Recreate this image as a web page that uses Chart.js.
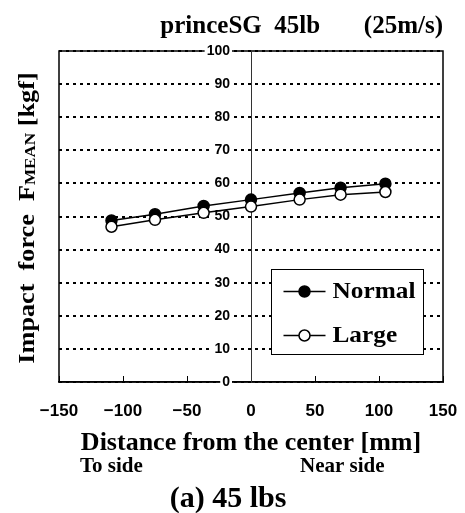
<!DOCTYPE html>
<html>
<head>
<meta charset="utf-8">
<script src="https://cdn.jsdelivr.net/npm/chart.js@4"></script>
<style>
  html, body { margin: 0; padding: 0; background: #fff; }
  #wrap { width: 465px; height: 513px; }
</style>
</head>
<body>
<div id="wrap"><canvas id="chart" width="465" height="513"></canvas></div>
<script>
// === ДАННЫЕ ===
const distances = [-109, -75, -37, 0, 38, 70, 105];
const normalForce = [48.8, 50.7, 53.2, 55.1, 57.1, 58.7, 59.9];
const largeForce = [46.9, 49.0, 51.1, 53.0, 55.1, 56.6, 57.4];
const xTicks = [-150, -100, -50, 0, 50, 100, 150];
const yTicks = [0, 10, 20, 30, 40, 50, 60, 70, 80, 90, 100];
const seriesNames = ['Normal', 'Large'];

const SERIF = '"Liberation Serif", "Times New Roman", serif';
const SANS = '"Liberation Sans", Arial, sans-serif';

// === РАМКА ОБЛАСТИ ГРАФИКА ===
const framePlugin = {
    id: 'frame',
    beforeDraw(chart) {
        const { ctx, chartArea: a } = chart;
        ctx.save();
        ctx.strokeStyle = '#000';
        ctx.lineWidth = 1.5;
        ctx.strokeRect(a.left, a.top, a.right - a.left, a.bottom - a.top);
        ctx.restore();
    }
};

// === ПОДПИСИ, ЛЕГЕНДА ===
const textPlugin = {
    id: 'extraText',
    afterDraw(chart) {
        const { ctx, chartArea: a } = chart;
        ctx.save();
        ctx.fillStyle = '#000';

        // ось Y: Impact force F_MEAN [kgf] (шрифт немного растянут по длине)
        const big = 'bold 23px ' + SERIF;
        const small = 'bold 15px ' + SERIF;
        const parts = [
            ['Impact\u00a0\u00a0force\u00a0\u00a0F', big, 0],
            ['MEAN', small, 1],
            ['\u00a0[kgf]', big, 0]
        ];
        const stretch = 1.14;
        let total = 0;
        parts.forEach(p => { ctx.font = p[1]; total += ctx.measureText(p[0]).width; });
        ctx.translate(34, 218);
        ctx.rotate(-Math.PI / 2);
        ctx.scale(stretch, 1);
        ctx.textBaseline = 'alphabetic';
        ctx.textAlign = 'left';
        let cx = -total / 2;
        parts.forEach(p => {
            ctx.font = p[1];
            ctx.fillText(p[0], cx, p[2]);
            cx += ctx.measureText(p[0]).width;
        });
        ctx.setTransform(1, 0, 0, 1, 0, 0);

        // To side / Near side
        ctx.font = 'bold 21px ' + SERIF;
        ctx.textBaseline = 'middle';
        ctx.textAlign = 'left';
        ctx.fillText('To side', 80, 467);
        ctx.fillText('Near side', 300, 467);

        // (a) 45 lbs
        ctx.font = 'bold 30px ' + SERIF;
        ctx.textAlign = 'center';
        ctx.fillText('(a) 45 lbs', 228, 499);

        // легенда
        const bx = a.left + 212.5, by = a.top + 218.5, bw = 152, bh = 85;
        ctx.fillStyle = '#fff';
        ctx.fillRect(bx, by, bw, bh);
        ctx.strokeStyle = '#000';
        ctx.lineWidth = 1;
        ctx.strokeRect(bx, by, bw, bh);
        const rows = [
            { name: seriesNames[0], fill: '#000', y: by + 22 },
            { name: seriesNames[1], fill: '#fff', y: by + 66 }
        ];
        rows.forEach(r => {
            ctx.strokeStyle = '#000';
            ctx.lineWidth = 1.5;
            ctx.beginPath();
            ctx.moveTo(bx + 12, r.y);
            ctx.lineTo(bx + 54, r.y);
            ctx.stroke();
            ctx.beginPath();
            ctx.arc(bx + 33, r.y, 5.5, 0, Math.PI * 2);
            ctx.fillStyle = r.fill;
            ctx.fill();
            ctx.stroke();
            ctx.fillStyle = '#000';
            ctx.font = 'bold 23px ' + SERIF;
            ctx.textAlign = 'left';
            ctx.textBaseline = 'middle';
            ctx.save();
            ctx.translate(bx + 61, r.y + 1);
            ctx.scale(1.1, 1);
            ctx.fillText(r.name, 0, 0);
            ctx.restore();
        });
        ctx.restore();
    }
};

// === ГРАФИК ===
function buildChart() {
    const ctx = document.getElementById('chart').getContext('2d');
    const toPoints = arr => distances.map((x, i) => ({ x: x, y: arr[i] }));

    new Chart(ctx, {
        type: 'scatter',
        data: {
            datasets: [{
                label: seriesNames[0],
                data: toPoints(normalForce),
                showLine: true,
                borderColor: '#000',
                borderWidth: 1.5,
                backgroundColor: '#000',
                pointRadius: 5.5,
                pointBorderWidth: 1.5,
                pointBackgroundColor: '#000',
                pointBorderColor: '#000',
                order: 1
            }, {
                label: seriesNames[1],
                data: toPoints(largeForce),
                showLine: true,
                borderColor: '#000',
                borderWidth: 1.5,
                backgroundColor: '#fff',
                pointRadius: 5.5,
                pointBorderWidth: 1.5,
                pointBackgroundColor: '#fff',
                pointBorderColor: '#000',
                order: 0
            }]
        },
        options: {
            responsive: false,
            animation: false,
            layout: { padding: { left: 59, right: 22, top: 0, bottom: 54.4 } },
            plugins: {
                legend: { display: false },
                tooltip: { enabled: false },
                title: {
                    display: true,
                    text: 'princeSG\u00a0\u00a045lb\u00a0\u00a0\u00a0\u00a0\u00a0\u00a0\u00a0(25m/s)',
                    align: 'end',
                    color: '#000',
                    font: { family: SERIF, size: 25, weight: 'bold' },
                    padding: { top: 12, bottom: 9 }
                }
            },
            scales: {
                x: {
                    type: 'linear',
                    position: 'bottom',
                    min: -150,
                    max: 150,
                    afterBuildTicks: s => { s.ticks = xTicks.map(v => ({ value: v })); },
                    ticks: {
                        color: '#000',
                        font: { family: SANS, size: 17, weight: 'bold', lineHeight: 3.5 },
                        padding: 5.75,
                        maxRotation: 0,
                        autoSkip: false,
                        callback: v => v < 0 ? '\u2212' + Math.abs(v) : String(v)
                    },
                    grid: { drawOnChartArea: false, drawTicks: true, tickLength: -6, color: '#000', lineWidth: 1 },
                    border: { display: true, color: '#000', width: 1.5 },
                    title: {
                        display: true,
                        text: 'Distance from the center [mm]',
                        color: '#000',
                        font: { family: SERIF, size: 26, weight: 'bold' },
                        padding: { top: -19.6, bottom: 0 }
                    }
                },
                y: {
                    type: 'linear',
                    position: 'center',
                    min: 0,
                    max: 100,
                    afterBuildTicks: s => { s.ticks = yTicks.map(v => ({ value: v })); },
                    ticks: {
                        color: '#000',
                        font: { family: SANS, size: 14, weight: 'bold' },
                        padding: 21,
                        showLabelBackdrop: true,
                        backdropColor: '#fff',
                        backdropPadding: { top: 0, bottom: 0, left: 2, right: 2 }
                    },
                    grid: { drawTicks: false, color: '#000', lineWidth: 2 },
                    border: { display: true, color: '#333', width: 1, dash: [3, 4] }
                }
            }
        },
        plugins: [framePlugin, textPlugin]
    });
}

document.addEventListener('DOMContentLoaded', buildChart);
</script>
</body>
</html>
